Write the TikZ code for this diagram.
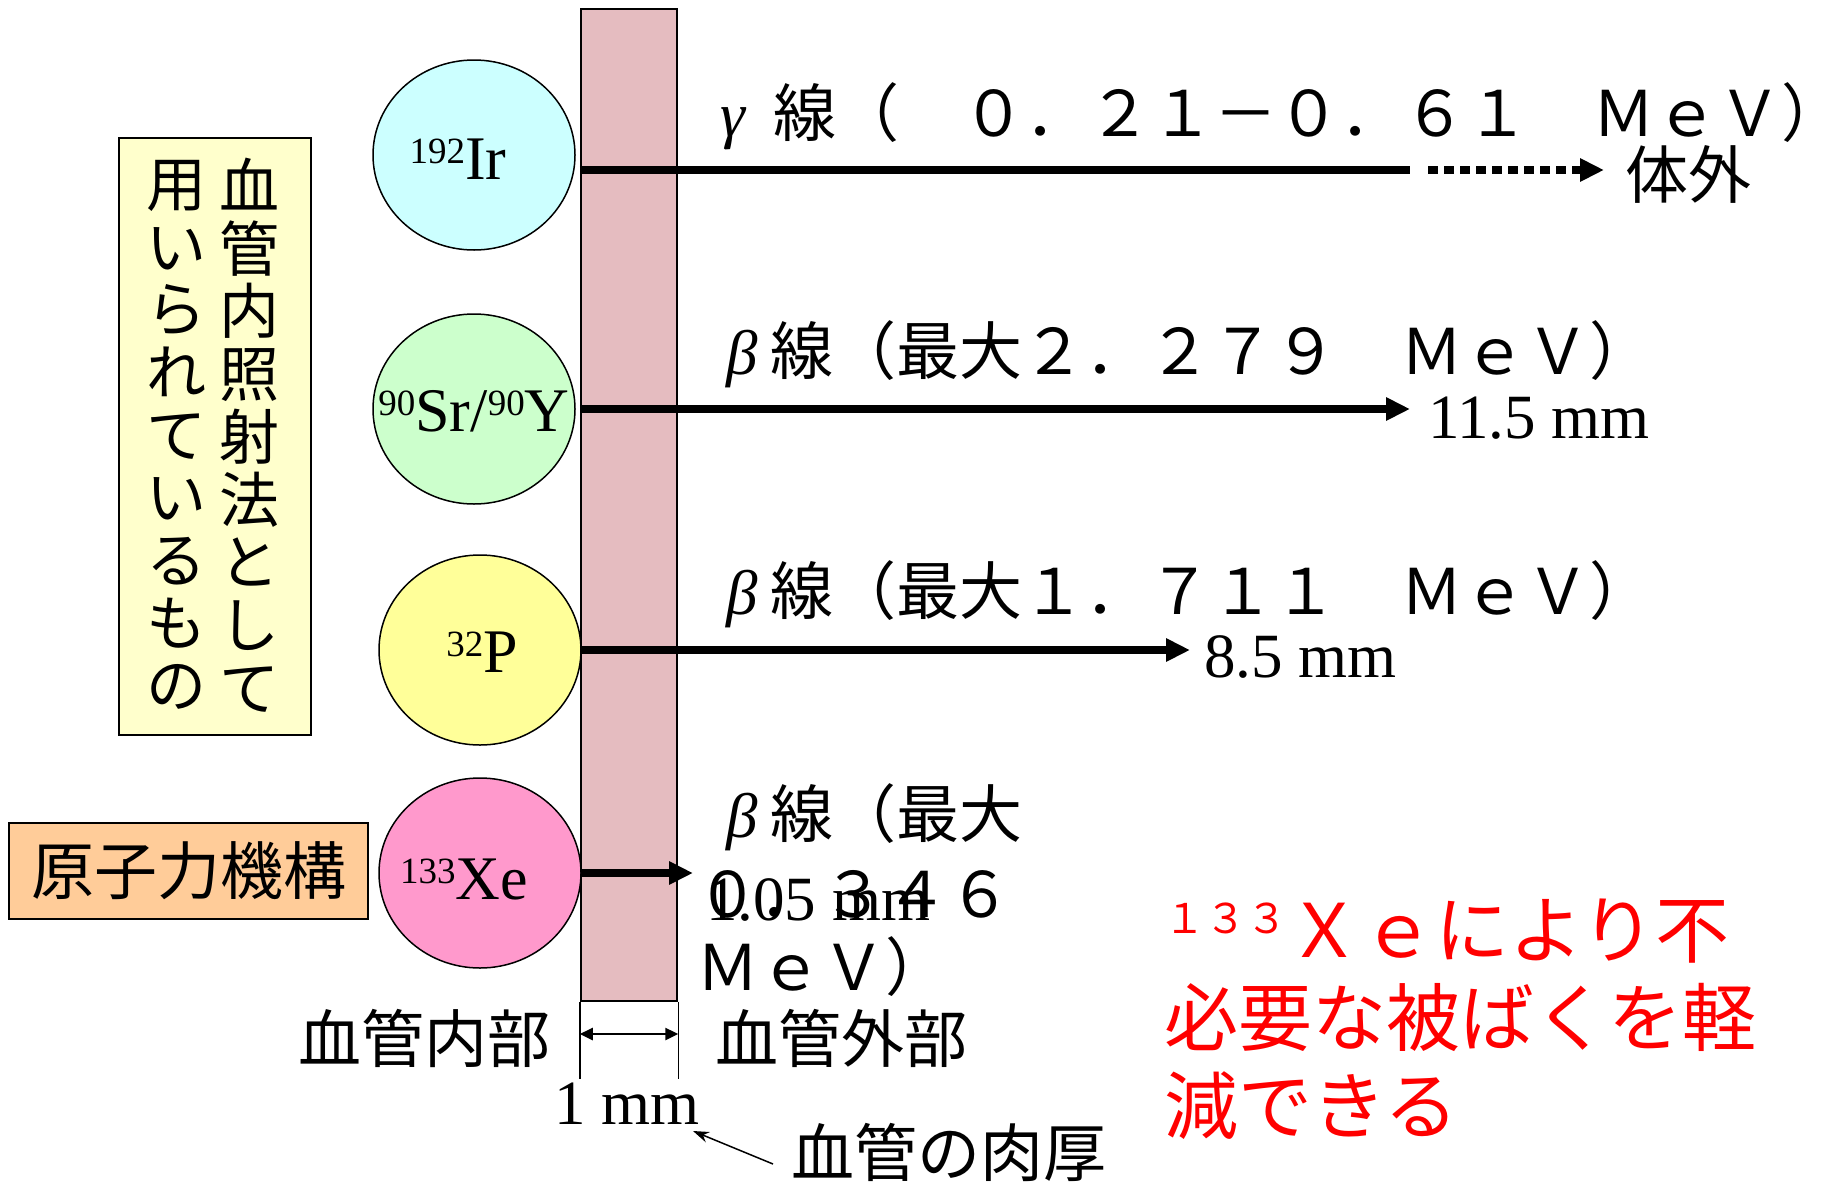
\documentclass[tikz,border=0pt]{standalone}
\usepackage{fontspec}
\setmainfont{Liberation Serif}
\newfontfamily\jp{Noto Sans CJK JP}
\usetikzlibrary{arrows.meta,shapes.geometric}
\definecolor{irc}{RGB}{204,255,255}
\definecolor{src}{RGB}{204,255,204}
\definecolor{pc}{RGB}{255,255,153}
\definecolor{xec}{RGB}{255,153,204}
\definecolor{yboxc}{RGB}{255,255,204}
\definecolor{oboxc}{RGB}{255,204,153}
\definecolor{wallc}{RGB}{229,188,192}
\newcommand\grk[1]{{\rmfamily\itshape #1}}
\newcommand\isolbl[2]{\raisebox{16pt}{\fontsize{37}{37}\selectfont #1}#2}
\begin{document}
\begin{tikzpicture}[x=1pt,y=-1pt,
  iso/.style={ellipse, draw, line width=1.5pt, minimum width=202pt, minimum height=190pt, inner sep=0pt},
  jt/.style={font=\jp\fontsize{63}{75}\selectfont, inner sep=0pt, anchor=base west},
  rt/.style={font=\fontsize{63}{75}\selectfont, inner sep=0pt, anchor=base west},
  lbl/.style={font=\fontsize{62}{74}\selectfont, inner sep=0pt, anchor=base},
  ray/.style={line width=8pt},
  tip/.style={-{Triangle[length=24pt,width=22pt]}},
  thinline/.style={line width=1.5pt},
  redt/.style={font=\jp\fontsize{74}{88}\selectfont, text=red, inner sep=0pt, anchor=base west},
  vcol/.style={font=\jp\fontsize{60}{62.7}\selectfont, align=center, inner sep=0pt}]
\useasboundingbox (0,0) rectangle (1843,1181);
\fill[white] (0,0) rectangle (1843,1181);

% vessel wall
\node[draw, line width=2.5pt, fill=wallc, minimum width=96pt, minimum height=992pt, inner sep=0pt] (wall) at (629,505) {};

% sources
\node[iso, fill=irc] (ir) at (474,155) {};
\node[iso, fill=src] (sr) at (474,409) {};
\node[iso, fill=pc]  (p)  at (480,650) {};
\node[iso, fill=xec] (xe) at (480,873) {};
\node[lbl] (irL) at (458,179) {\isolbl{192}{Ir}};
\node[lbl] (srL) at (474,431) {\isolbl{90}{Sr/}\isolbl{90}{Y}};
\node[lbl] (pL)  at (482,672) {\isolbl{32}{P}};
\node[lbl] (xeL) at (464,899) {\isolbl{133}{Xe}};

% left boxes
\node[draw, line width=1.5pt, fill=yboxc, minimum width=192pt, minimum height=597pt, inner sep=0pt] (ybox) at (215,436.5) {};
\node[vcol] (colA) at (249,435) {血\\管\\内\\照\\射\\法\\と\\し\\て};
\node[vcol] (colB) at (176,435) {用\\い\\ら\\れ\\て\\い\\る\\も\\の};
\node[draw, line width=1.5pt, fill=oboxc, minimum width=359pt, minimum height=96pt, inner sep=0pt,
      font=\jp\fontsize{63}{75}\selectfont] (jaea) at (188.5,871) {原子力機構};

% ray labels
\node[jt] (gT) at (720,136) {\grk{γ}\hspace{28pt}線（　０．２１－０．６１　ＭｅＶ）};
\node[jt] (outT) at (1625,198) {体外};
\node[jt] (b1T) at (726,374) {\grk{β}\hspace{13pt}線（最大２．２７９　ＭｅＶ）};
\node[rt] (b1R) at (1428,438) {11.5 mm};
\node[jt] (b2T) at (726,614) {\grk{β}\hspace{13pt}線（最大１．７１１　ＭｅＶ）};
\node[rt] (b2R) at (1204,677) {8.5 mm};
\node[jt] (b3T) at (726,837) {\grk{β}\hspace{13pt}線（最大};
\node[jt] (b3E) at (696,917) {０．３４６};
\node[rt] (b3R) at (706,920) {1.05 mm};
\node[jt] (b3U) at (696,990) {ＭｅＶ）};

% rays
\coordinate (irSolid) at (1410,170);
\coordinate (irDot) at (1428,170);
\coordinate (irTip) at (1604,170);
\coordinate (srTip) at (1410,409);
\coordinate (pTip) at (1190,650);
\coordinate (xeTip) at (693,873);
\draw[ray] (wall.west |- irSolid) -- (irSolid);
\draw[ray, tip, dash pattern=on 10pt off 6pt] (irDot) -- (irTip);
\draw[ray, tip] (wall.west |- sr.east) -- (srTip);
\draw[ray, tip] (wall.west |- p.east) -- (pTip);
\draw[ray, tip] (xe.east) -- (xeTip);

% wall thickness dimension
\coordinate (dimBot) at (629,1079);
\coordinate (dimY) at (629,1034);
\draw[thinline] (wall.south west) -- (wall.south west |- dimBot);
\draw[thinline] (wall.south east) -- (wall.south east |- dimBot);
\draw[line width=2.5pt, {Triangle[length=13pt,width=12pt]}-{Triangle[length=13pt,width=12pt]}]
  (wall.west |- dimY) -- (wall.east |- dimY);
\node[jt] (inside) at (298,1062) {血管内部};
\node[jt] (outside) at (715,1062) {血管外部};
\node[rt, anchor=base] (onemm) at (627,1124) {1 mm};
\node[jt] (thick) at (791,1176) {血管の肉厚};
\coordinate (thickTail) at (773,1164);
\coordinate (thickTip) at (693,1131);
\draw[thinline, -{Stealth[length=16pt,width=11pt]}] (thickTail) -- (thickTip);

% red note
\node[redt] (red1) at (1164,957) {{\fontsize{41}{41}\selectfont\raisebox{24pt}{１３３}}Ｘｅにより不};
\node[redt] (red2) at (1164,1045) {必要な被ばくを軽};
\node[redt] (red3) at (1164,1133) {減できる};
\end{tikzpicture}
\end{document}
